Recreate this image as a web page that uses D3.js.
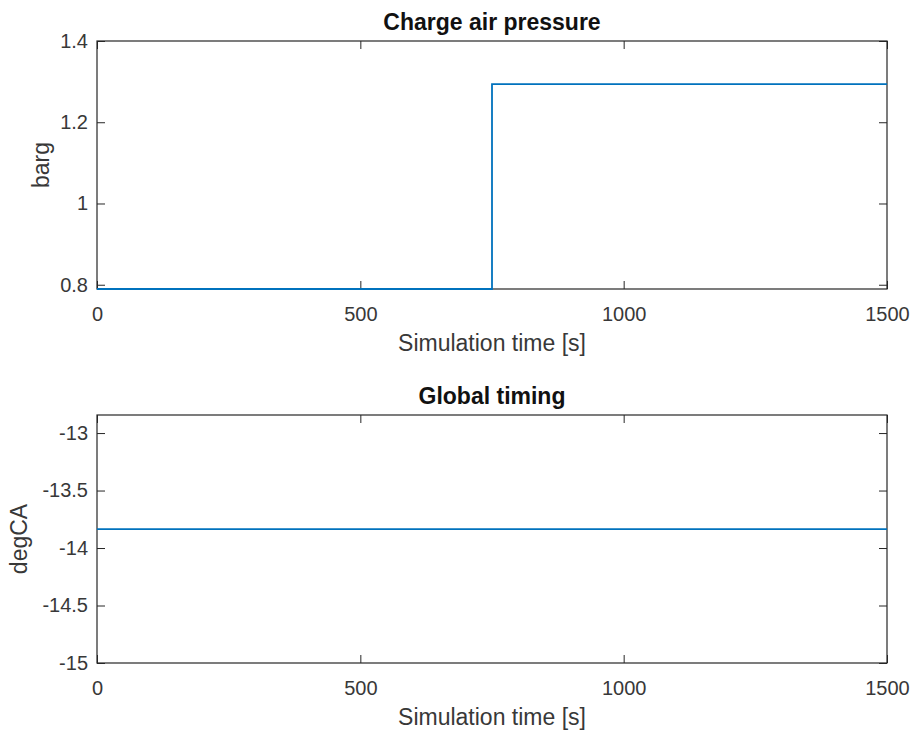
<!DOCTYPE html>
<html>
<head>
<meta charset="utf-8">
<script src="https://cdn.jsdelivr.net/npm/d3@7"></script>
<style>
  body { margin: 0; background: #fff; }
  svg { display: block; }
  .tick text { font-family: Arial, "Liberation Sans", Helvetica, sans-serif; font-size: 20px; fill: #383838; }
  .tick line { stroke: #262626; }
  .lbl { font-family: Arial, "Liberation Sans", Helvetica, sans-serif; font-size: 23px; fill: #383838; }
  .ttl { font-family: Arial, "Liberation Sans", Helvetica, sans-serif; font-size: 23px; font-weight: bold; fill: #111; }
</style>
</head>
<body>
<svg width="917" height="733"></svg>
<script>
// data
var timeTicks = [0, 500, 1000, 1500];

var pressureTime = [0, 750, 750, 1500];
var pressureValue = [0.7895, 0.7895, 1.294, 1.294];
var pressureTicks = [0.8, 1, 1.2, 1.4];

var timingTime = [0, 1500];
var timingValue = [-13.835, -13.835];
var timingTicks = [-15, -14.5, -14, -13.5, -13];

var svg = d3.select('svg');

function panel(top, bottom, time, values, yDomain, yTicks, title, ylabel, ylabelX) {
    var x = d3.scaleLinear().domain([0, 1500]).range([97, 887]);
    var y = d3.scaleLinear().domain(yDomain).range([bottom, top]);

    var g = svg.append('g');

    g.append('rect')
        .attr('x', 97).attr('y', top)
        .attr('width', 790).attr('height', bottom - top)
        .attr('fill', 'none').attr('stroke', '#262626').attr('stroke-width', 1.2);

    g.append('g')
        .attr('transform', 'translate(0,' + bottom + ')')
        .call(d3.axisBottom(x).tickValues(timeTicks).tickFormat(d => String(d))
            .tickSizeInner(-8).tickSizeOuter(0).tickPadding(18))
        .call(a => a.select('.domain').remove());

    g.append('g')
        .attr('transform', 'translate(0,' + top + ')')
        .call(d3.axisTop(x).tickValues(timeTicks).tickFormat('')
            .tickSizeInner(-8).tickSizeOuter(0))
        .call(a => a.select('.domain').remove());

    g.append('g')
        .attr('transform', 'translate(97,0)')
        .call(d3.axisLeft(y).tickValues(yTicks).tickFormat(d => String(d))
            .tickSizeInner(-8).tickSizeOuter(0).tickPadding(9))
        .call(a => a.select('.domain').remove());

    g.append('g')
        .attr('transform', 'translate(887,0)')
        .call(d3.axisRight(y).tickValues(yTicks).tickFormat('')
            .tickSizeInner(-8).tickSizeOuter(0))
        .call(a => a.select('.domain').remove());

    g.selectAll('.tick text').attr('font-family', null).attr('font-size', null);

    var pts = time.map((t, i) => [t, values[i]]);
    g.append('path')
        .datum(pts)
        .attr('fill', 'none')
        .attr('stroke', '#0072BD')
        .attr('stroke-width', 1.8)
        .attr('d', d3.line().x(d => x(d[0])).y(d => y(d[1])));

    g.append('text').attr('class', 'ttl')
        .attr('x', 492).attr('y', top - 11)
        .attr('text-anchor', 'middle')
        .text(title);

    g.append('text').attr('class', 'lbl')
        .attr('x', 492).attr('y', bottom + 62)
        .attr('text-anchor', 'middle')
        .text('Simulation time [s]');

    g.append('text').attr('class', 'lbl')
        .attr('transform', 'translate(' + ylabelX + ',' + ((top + bottom) / 2) + ') rotate(-90)')
        .attr('text-anchor', 'middle')
        .text(ylabel);
}

panel(41, 289, pressureTime, pressureValue, [0.7895, 1.4], pressureTicks,
    'Charge air pressure', 'barg', 49);
panel(415, 663, timingTime, timingValue, [-15, -12.843], timingTicks,
    'Global timing', 'degCA', 27);
</script>
</body>
</html>
